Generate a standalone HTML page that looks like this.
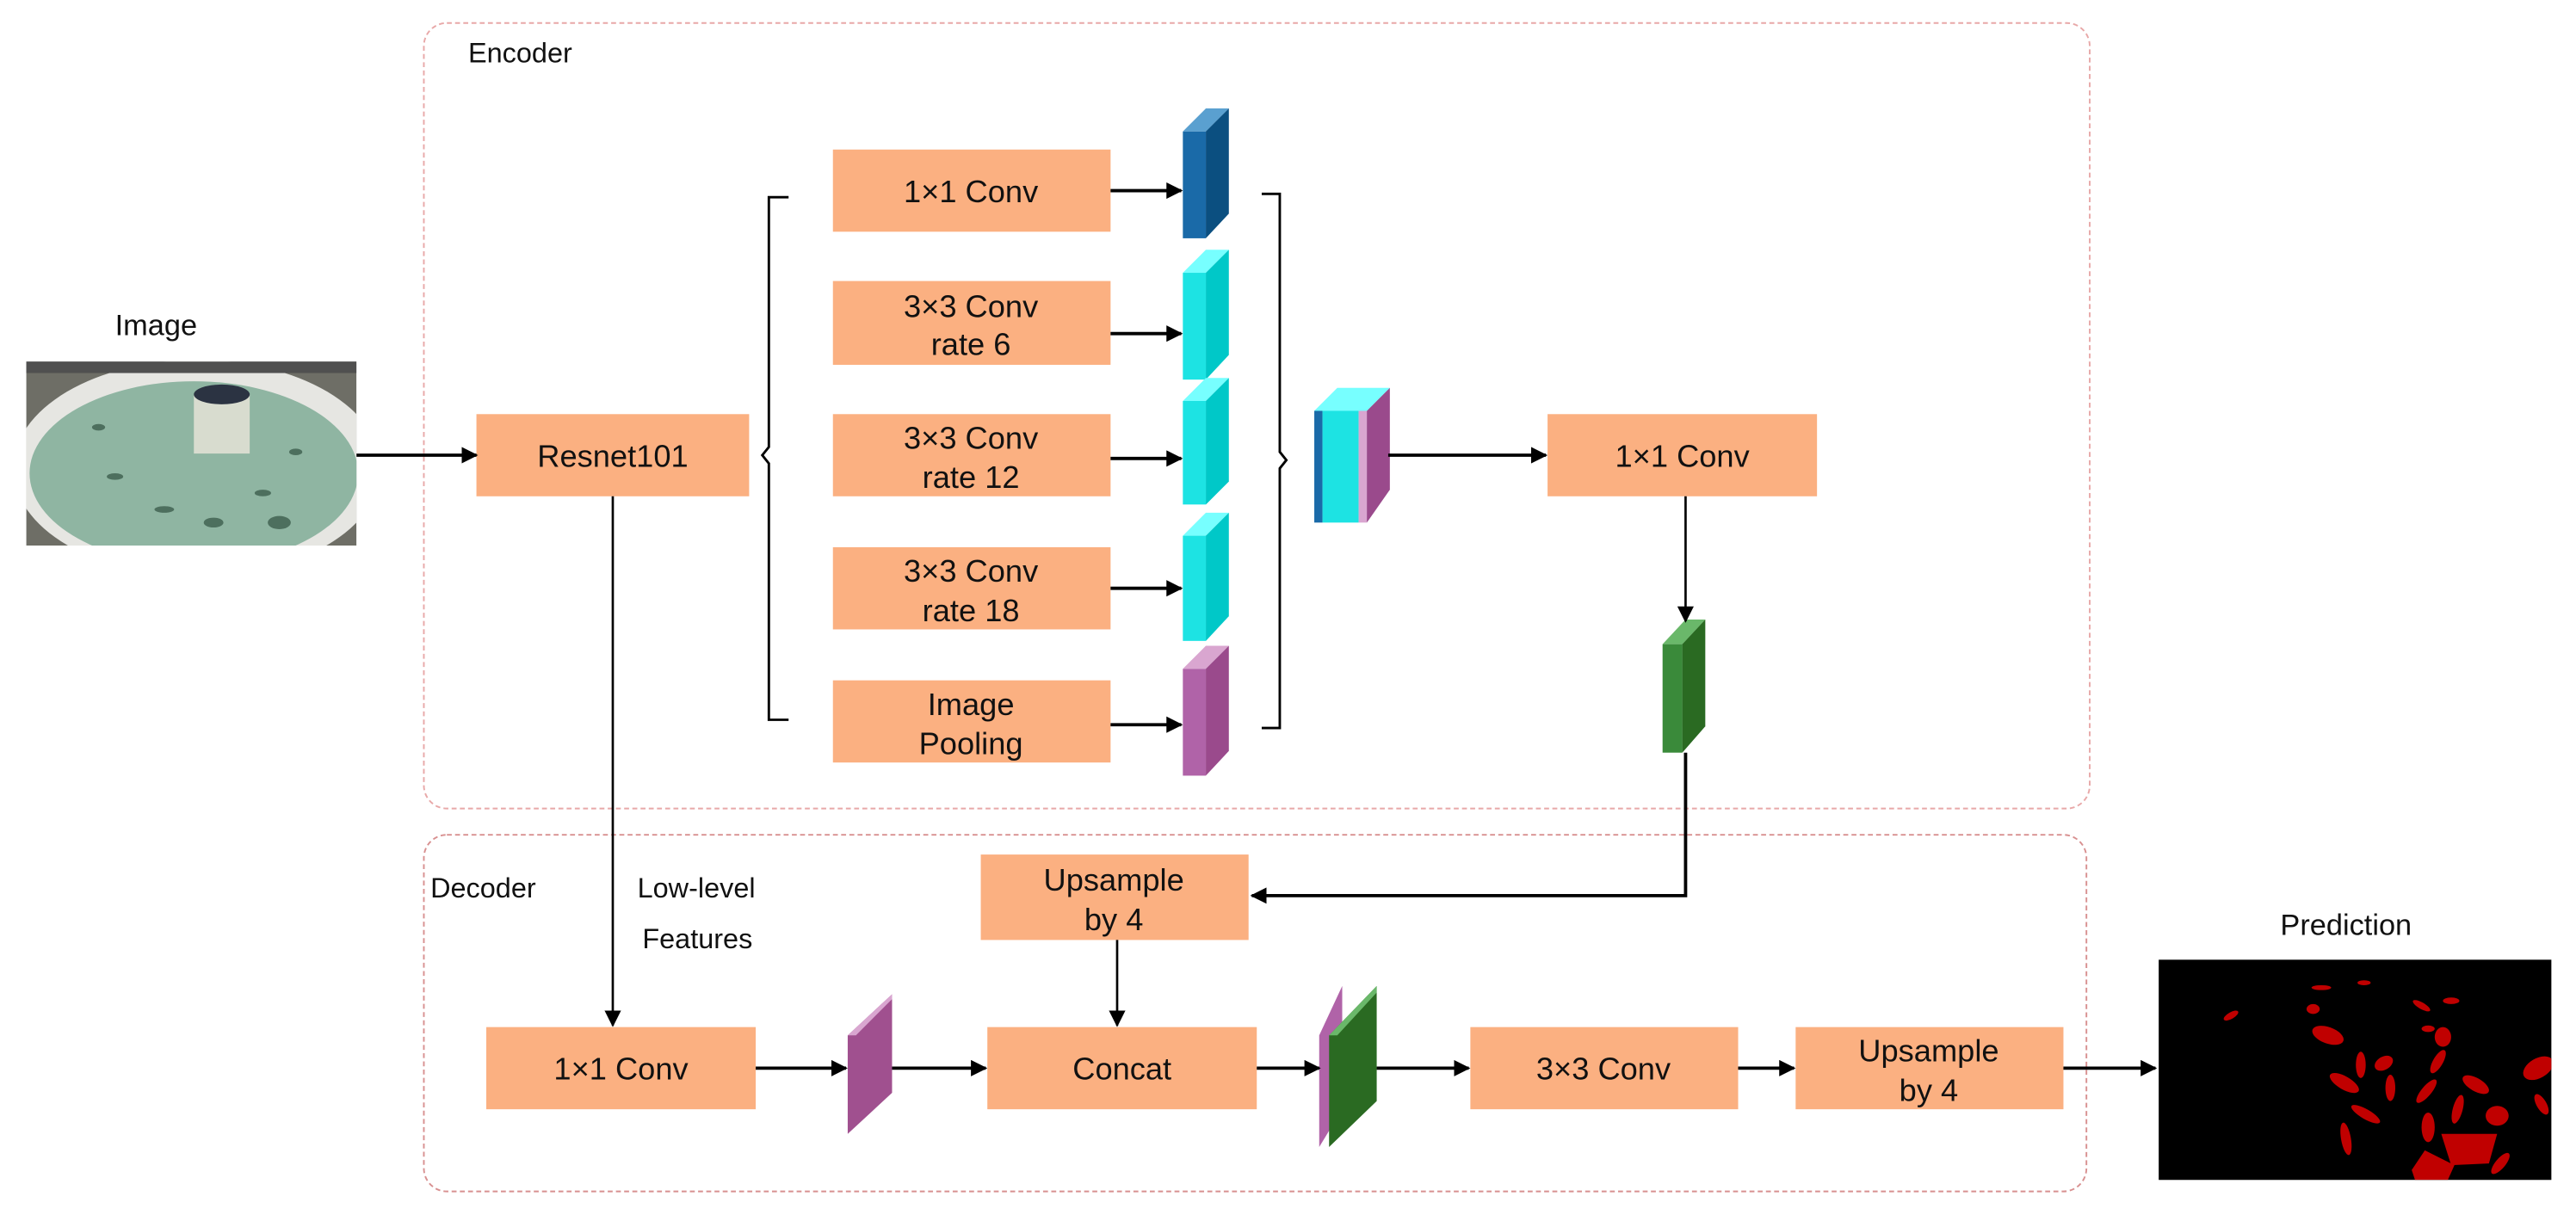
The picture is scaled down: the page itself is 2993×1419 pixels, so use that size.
<!DOCTYPE html>
<html><head><meta charset="utf-8"><style>
html,body{margin:0;padding:0;background:#fff}
svg{display:block}
text{font-family:"Liberation Sans",sans-serif;fill:#111}
</style></head><body>
<svg width="2993" height="1419" viewBox="0 0 1568 743" preserveAspectRatio="none" xmlns="http://www.w3.org/2000/svg">
<defs>
<marker id="a" markerWidth="10" markerHeight="10" refX="9" refY="5" orient="auto" markerUnits="userSpaceOnUse"><path d="M0,0 L10,5 L0,10 z" fill="#000"/></marker>
<clipPath id="ph"><rect x="16" y="220" width="201" height="112"/></clipPath>
<clipPath id="pr"><rect x="1314" y="584" width="239" height="134"/></clipPath>
</defs>
<!-- frames -->
<rect x="258" y="14" width="1014" height="478" rx="14" fill="none" stroke="#e8a8a8" stroke-width="1" stroke-dasharray="3,2"/>
<rect x="258" y="508" width="1012" height="217" rx="14" fill="none" stroke="#d89090" stroke-width="1" stroke-dasharray="3,2"/>
<text x="285" y="38" font-size="17">Encoder</text>
<text x="262" y="546" font-size="17">Decoder</text>
<text x="388" y="546" font-size="17">Low-level</text>
<text x="391" y="577" font-size="17">Features</text>
<text x="70" y="204" font-size="18">Image</text>
<text x="1388" y="569" font-size="18">Prediction</text>

<!-- photo -->
<g clip-path="url(#ph)">
<rect x="16" y="220" width="201" height="112" fill="#6e6e66"/>
<ellipse cx="120" cy="285" rx="112" ry="66" fill="#e6e6e2"/>
<ellipse cx="118" cy="288" rx="100" ry="56" fill="#8fb5a2"/>
<rect x="118" y="240" width="34" height="36" fill="#d8dccf"/>
<ellipse cx="135" cy="240" rx="17" ry="6" fill="#2b3342"/>
<rect x="16" y="220" width="201" height="7" fill="#505050"/>
<g fill="#4d6f5e"><ellipse cx="70" cy="290" rx="5" ry="2"/><ellipse cx="100" cy="310" rx="6" ry="2"/><ellipse cx="160" cy="300" rx="5" ry="2"/><ellipse cx="180" cy="275" rx="4" ry="2"/><ellipse cx="130" cy="318" rx="6" ry="3"/><ellipse cx="170" cy="318" rx="7" ry="4"/><ellipse cx="60" cy="260" rx="4" ry="2"/></g>
</g>

<!-- boxes -->
<g fill="#fbb081">
<rect x="290" y="252" width="166" height="50"/>
<rect x="507" y="91" width="169" height="50"/>
<rect x="507" y="171" width="169" height="51"/>
<rect x="507" y="252" width="169" height="50"/>
<rect x="507" y="333" width="169" height="50"/>
<rect x="507" y="414" width="169" height="50"/>
<rect x="942" y="252" width="164" height="50"/>
<rect x="597" y="520" width="163" height="52"/>
<rect x="296" y="625" width="164" height="50"/>
<rect x="601" y="625" width="164" height="50"/>
<rect x="895" y="625" width="163" height="50"/>
<rect x="1093" y="625" width="163" height="50"/>
</g>
<g font-size="19" text-anchor="middle">
<text x="373" y="284">Resnet101</text>
<text x="591" y="123">1×1 Conv</text>
<text x="591" y="193">3×3 Conv</text><text x="591" y="216">rate 6</text>
<text x="591" y="273">3×3 Conv</text><text x="591" y="297">rate 12</text>
<text x="591" y="354">3×3 Conv</text><text x="591" y="378">rate 18</text>
<text x="591" y="435">Image</text><text x="591" y="459">Pooling</text>
<text x="1024" y="284">1×1 Conv</text>
<text x="678" y="542">Upsample</text><text x="678" y="566">by 4</text>
<text x="378" y="657">1×1 Conv</text>
<text x="683" y="657">Concat</text>
<text x="976" y="657">3×3 Conv</text>
<text x="1174" y="646">Upsample</text><text x="1174" y="670">by 4</text>
</g>

<!-- feature blocks -->
<g>
<polygon points="720,80 734,66 748,66 734,80" fill="#5aa0d0"/><rect x="720" y="80" width="14" height="65" fill="#1a6aa8"/><polygon points="734,80 748,66 748,130 734,145" fill="#0b4f80"/>
<polygon points="720,166 734,152 748,152 734,166" fill="#7ff"/><rect x="720" y="166" width="14" height="65" fill="#1de3e3"/><polygon points="734,166 748,152 748,216 734,231" fill="#00c8c8"/>
<polygon points="720,244 734,230 748,230 734,244" fill="#7ff"/><rect x="720" y="244" width="14" height="63" fill="#1de3e3"/><polygon points="734,244 748,230 748,293 734,307" fill="#00c8c8"/>
<polygon points="720,326 734,312 748,312 734,326" fill="#7ff"/><rect x="720" y="326" width="14" height="64" fill="#1de3e3"/><polygon points="734,326 748,312 748,375 734,390" fill="#00c8c8"/>
<polygon points="720,407 734,393 748,393 734,407" fill="#d9a6d0"/><rect x="720" y="407" width="14" height="65" fill="#b063a8"/><polygon points="734,407 748,393 748,457 734,472" fill="#9a4a8c"/>
<polygon points="800,250 814,236 846,236 832,250" fill="#7ff"/>
<rect x="800" y="250" width="5" height="68" fill="#1a6aa8"/>
<rect x="805" y="250" width="22" height="68" fill="#1de3e3"/>
<rect x="827" y="250" width="5" height="68" fill="#d9a6d0"/>
<polygon points="832,250 846,236 846,298 832,318" fill="#9a4a8c"/>
<polygon points="1012,392 1026,377 1038,377 1024,392" fill="#6ab86a"/><rect x="1012" y="392" width="12" height="66" fill="#3a8a3a"/><polygon points="1024,392 1038,377 1038,442 1024,458" fill="#2a6a22"/>
<polygon points="516,630 543,605 543,665 516,690" fill="#a0508f"/><polygon points="516,630 521,630 543,608 543,605" fill="#d9a6d0"/>
<polygon points="803,630 817,600 817,675 803,698" fill="#b063a8"/>
<polygon points="809,630 838,600 838,670 809,698" fill="#2a6a22"/>
<polygon points="809,630 814,630 838,604 838,600" fill="#6ab86a"/>
</g>

<!-- brackets -->
<path d="M480,120 H468 V272 L464,277 L468,282 V438 H480" fill="none" stroke="#000" stroke-width="1.5"/>
<path d="M768,118 H779 V275 L783,280 L779,285 V443 H768" fill="none" stroke="#000" stroke-width="1.5"/>

<!-- arrows -->
<g stroke="#000" stroke-width="2" fill="none" marker-end="url(#a)">
<line x1="217" y1="277" x2="290" y2="277"/>
<line x1="676" y1="116" x2="719" y2="116"/>
<line x1="676" y1="203" x2="719" y2="203"/>
<line x1="676" y1="279" x2="719" y2="279"/>
<line x1="676" y1="358" x2="719" y2="358"/>
<line x1="676" y1="441" x2="719" y2="441"/>
<line x1="845" y1="277" x2="941" y2="277"/>
<line x1="460" y1="650" x2="515" y2="650"/>
<line x1="543" y1="650" x2="600" y2="650"/>
<line x1="765" y1="650" x2="803" y2="650"/>
<line x1="838" y1="650" x2="894" y2="650"/>
<line x1="1058" y1="650" x2="1092" y2="650"/>
<line x1="1256" y1="650" x2="1312" y2="650"/>
<path d="M1026,458 V545 H762"/>
</g>
<g stroke="#000" stroke-width="1.4" fill="none" marker-end="url(#a)">
<line x1="373" y1="302" x2="373" y2="624"/>
<line x1="680" y1="572" x2="680" y2="624"/>
<line x1="1026" y1="302" x2="1026" y2="378"/>
</g>

<!-- prediction -->
<rect x="1314" y="584" width="239" height="134" fill="#000"/>
<g fill="#c00000" clip-path="url(#pr)">
<ellipse cx="1358" cy="618" rx="5" ry="2" transform="rotate(-30 1358 618)"/>
<ellipse cx="1413" cy="601" rx="6" ry="1.5"/><ellipse cx="1439" cy="598" rx="4" ry="1.5"/>
<ellipse cx="1408" cy="614" rx="4" ry="3"/><ellipse cx="1417" cy="630" rx="10" ry="5" transform="rotate(20 1417 630)"/>
<ellipse cx="1437" cy="648" rx="3" ry="8"/><ellipse cx="1451" cy="647" rx="6" ry="4" transform="rotate(-30 1451 647)"/>
<ellipse cx="1427" cy="659" rx="10" ry="4" transform="rotate(30 1427 659)"/><ellipse cx="1455" cy="662" rx="3" ry="8"/>
<ellipse cx="1440" cy="678" rx="10" ry="3" transform="rotate(30 1440 678)"/><ellipse cx="1428" cy="693" rx="3" ry="10" transform="rotate(-10 1428 693)"/>
<ellipse cx="1474" cy="612" rx="6" ry="2" transform="rotate(30 1474 612)"/><ellipse cx="1492" cy="609" rx="5" ry="2"/>
<ellipse cx="1487" cy="631" rx="5" ry="6"/><ellipse cx="1478" cy="626" rx="4" ry="2"/>
<ellipse cx="1484" cy="646" rx="3" ry="8" transform="rotate(30 1484 646)"/><ellipse cx="1477" cy="664" rx="3" ry="9" transform="rotate(40 1477 664)"/>
<ellipse cx="1507" cy="660" rx="9" ry="4" transform="rotate(30 1507 660)"/><ellipse cx="1478" cy="686" rx="4" ry="9"/>
<ellipse cx="1496" cy="675" rx="3" ry="9" transform="rotate(15 1496 675)"/><ellipse cx="1520" cy="679" rx="7" ry="6"/>
<polygon points="1486,690 1520,690 1515,708 1492,709"/><polygon points="1468,712 1476,700 1494,709 1490,718 1470,718"/>
<ellipse cx="1545" cy="650" rx="10" ry="6" transform="rotate(-30 1545 650)"/><ellipse cx="1547" cy="672" rx="3" ry="7" transform="rotate(-30 1547 672)"/>
<ellipse cx="1522" cy="708" rx="3" ry="8" transform="rotate(40 1522 708)"/>
</g>
</svg>
</body></html>
